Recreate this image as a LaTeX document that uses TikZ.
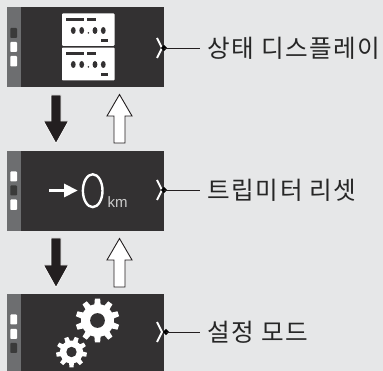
\documentclass[tikz,border=0pt]{standalone}
\usepackage{fontspec}
\setmainfont{Liberation Sans}
\newfontfamily\cjk[LetterSpace=6]{Noto Sans CJK KR}
\usetikzlibrary{shapes.geometric,calc}
\definecolor{bgc}{HTML}{E6E7E8}
\definecolor{panelc}{HTML}{333132}
\definecolor{stripc}{HTML}{6D6E70}
\definecolor{darkbtn}{HTML}{3A3A3A}
\definecolor{arrowc}{HTML}{231F20}
\tikzset{
  x=1pt,y=-1pt,
  panel/.style={fill=panelc,draw=none},
  strip/.style={fill=stripc,draw=none},
  btnon/.style={fill=white,draw=none,rounded corners=0.8pt},
  btnoff/.style={fill=darkbtn,draw=none,rounded corners=0.8pt},
  lbl/.style={font=\cjk\fontsize{24.6}{27}\selectfont,text=black!85,anchor=west,inner sep=0pt},
  leader/.style={draw=arrowc,line width=0.8pt},
  dot/.style={diamond,fill=black,inner sep=0pt,minimum size=6.5pt},
  bracketmark/.style={white,line width=1.9pt,line join=miter},
  downarr/.style={fill=arrowc,draw=white,line width=0.7pt,line join=miter},
  uparr/.style={fill=white,draw=arrowc,line width=0.9pt,line join=miter},
}
% #1 y of top of white card
\newcommand{\miniscreen}[1]{%
  \fill[panelc] (66,#1+4.5) rectangle (84,#1+7.5);
  \fill[panelc] (87,#1+4.5) rectangle (96,#1+7.5);
  \foreach \dx in {73.3,81.7,95,103.3} \fill[panelc] (\dx,#1+17) ellipse (2.4 and 3.5);
  \fill[panelc] (88.4,#1+19.4) circle (0.9);
  \fill[panelc] (101,#1+26) rectangle (108,#1+29);
}
% #1 x, #2 y, #3 outer radius, #4 root radius, #5 teeth, #6 hole radius, #7 start angle
\newcommand{\gearshape}[7]{%
  \pgfmathsetmacro{\stepang}{360/#5}
  \fill[white]
    ($(#1,#2)+(#7-0.30*\stepang:#4)$)
    \foreach \i in {1,...,#5} {
      -- ($(#1,#2)+(#7+\i*\stepang-\stepang-0.19*\stepang:#3)$)
      -- ($(#1,#2)+(#7+\i*\stepang-\stepang+0.19*\stepang:#3)$)
      -- ($(#1,#2)+(#7+\i*\stepang-\stepang+0.30*\stepang:#4)$)
      -- ($(#1,#2)+(#7+\i*\stepang-0.30*\stepang:#4)$)
    } -- cycle;
  \fill[panelc] (#1,#2) circle (#6);
}
\begin{document}
\begin{tikzpicture}
\useasboundingbox (0,0) rectangle (383,371);
\fill[bgc] (0,0) rectangle (383,371);
% panels
\fill[panel] (7,7) rectangle (164,87);
\fill[panel] (7,151) rectangle (164,231);
\fill[panel] (7,294) rectangle (164,371);
\fill[strip] (7,7) rectangle (21,87);
\fill[strip] (7,151) rectangle (21,231);
\fill[strip] (7,294) rectangle (21,371);
% buttons
\fill[btnoff] (10.3,28) rectangle (17,38);
\fill[btnon]  (10.3,42) rectangle (17,52);
\fill[btnon]  (10.3,56) rectangle (17,66.5);
\fill[btnon]  (10.3,171.5) rectangle (17,181.5);
\fill[btnoff] (10.3,185.5) rectangle (17,195.5);
\fill[btnon]  (10.3,199.5) rectangle (17,210);
\fill[btnon]  (10.3,314.5) rectangle (17,324.5);
\fill[btnon]  (10.3,329) rectangle (17,339);
\fill[btnoff] (10.3,343) rectangle (17,353);
% panel 1 display
\fill[white,rounded corners=0.8pt] (62,13.5) rectangle (114.5,45.8);
\fill[white,rounded corners=0.8pt] (62,47.7) rectangle (114.5,80.5);
\miniscreen{13.5}
\miniscreen{47.5}
% panel 2 display
\draw[white,line width=3.6pt] (49,190.5) -- (66,190.5);
\fill[white] (64,183.5) -- (77.5,190.5) -- (64,197.5) -- cycle;
\draw[white,line width=2.4pt] (92.7,190.7) ellipse (9.8 and 16.4);
\node[inner sep=0pt,anchor=base west,text=white!80!black,font=\fontsize{15}{16}\selectfont] (kmlabel) at (107.5,207.5) {km};
% gears
\gearshape{97.5}{320.5}{22}{16.5}{10}{7.4}{18}
\gearshape{71.5}{352}{15.5}{11.5}{9}{5.2}{10}
% arrows
\draw[downarr] (51,95) -- (61,95) -- (61,121) -- (68.5,121) -- (56,143.5) -- (43.5,121) -- (51,121) -- cycle;
\draw[downarr] (51,238) -- (61,238) -- (61,265) -- (68.5,265) -- (56,287.5) -- (43.5,265) -- (51,265) -- cycle;
\draw[uparr] (114,143) -- (125,143) -- (125,116) -- (132,116) -- (119.5,94.5) -- (107,116) -- (114,116) -- cycle;
\draw[uparr] (114,287) -- (125,287) -- (125,260) -- (132,260) -- (119.5,238.5) -- (107,260) -- (114,260) -- cycle;
% bracket marks
\foreach \yy in {48,190,332} {
  \draw[bracketmark] (157,\yy-10) -- (162,\yy) -- (157,\yy+10);
}
% labels and leaders
\node[lbl] (lab1) at (207.5,48) {상태 디스플레이};
\node[lbl] (lab2) at (207.5,190) {트립미터 리셋};
\node[lbl] (lab3) at (207.5,332) {설정 모드};
\node[dot] (d1) at (164,48) {};
\node[dot] (d2) at (164,190) {};
\node[dot] (d3) at (166,332) {};
\coordinate (e1) at (200,48);
\coordinate (e2) at (200,190);
\coordinate (e3) at (200,332);
\draw[leader] (d1.center) -- (e1);
\draw[leader] (d2.center) -- (e2);
\draw[leader] (d3.center) -- (e3);
\end{tikzpicture}
\end{document}
